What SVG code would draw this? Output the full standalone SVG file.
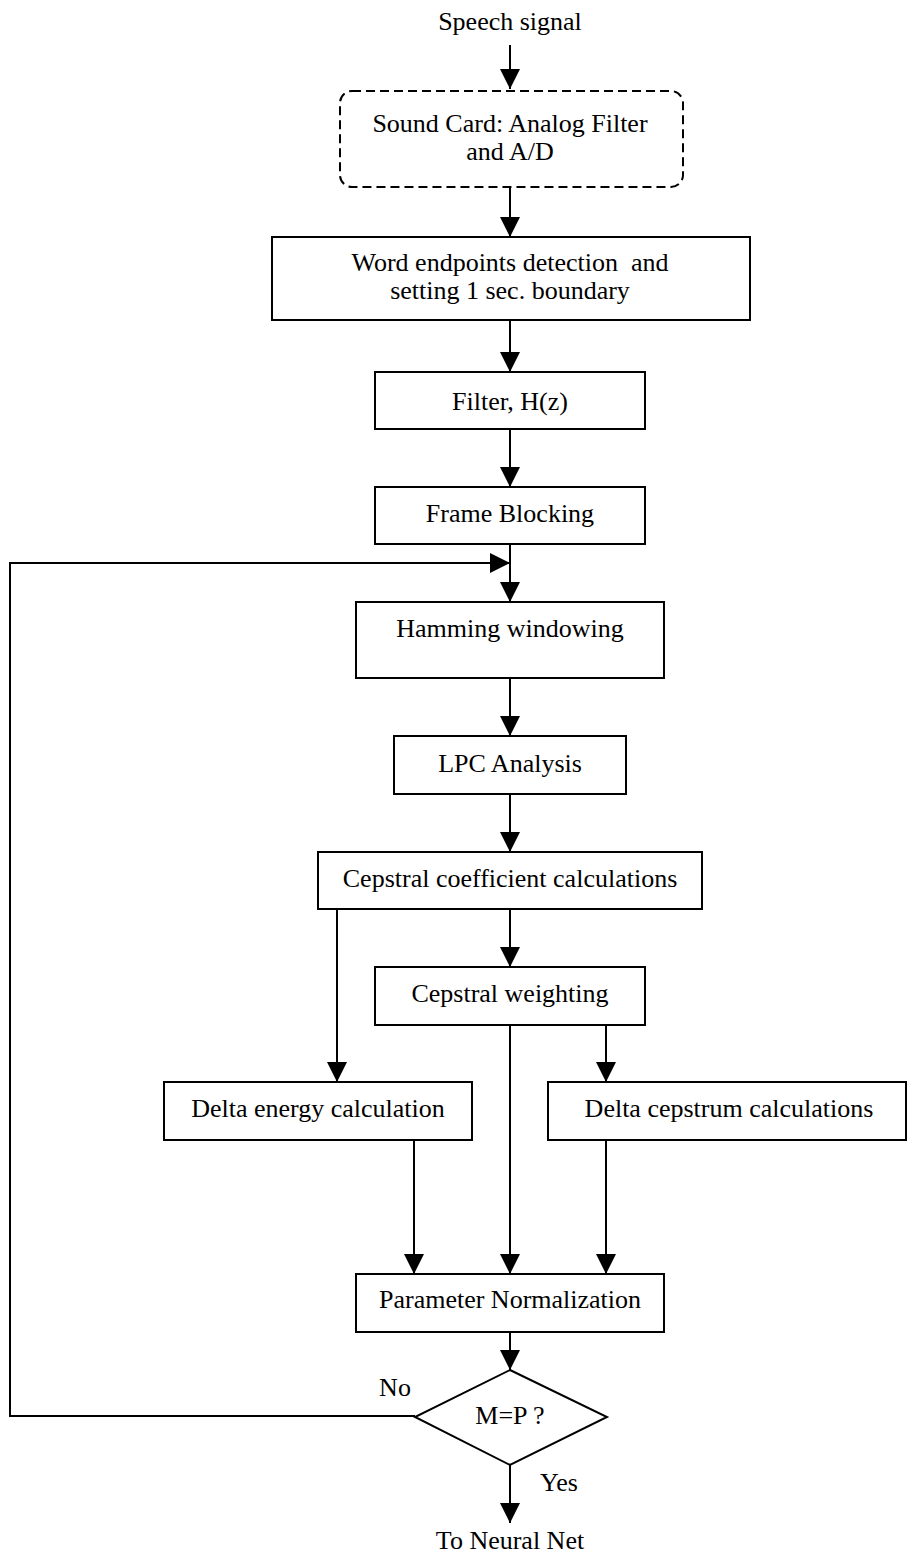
<svg xmlns="http://www.w3.org/2000/svg" width="907" height="1555" viewBox="0 0 907 1555">
<style>
  .box { fill: #fff; stroke: #000; stroke-width: 2; }
  .dash { fill: #fff; stroke: #000; stroke-width: 2; stroke-dasharray: 9 5; }
  .t { font-family: "Liberation Serif", "Times New Roman", serif; font-size: 26px; fill: #000; text-anchor: middle; }
  .c { fill: none; stroke: #000; stroke-width: 2; }
</style>
<defs>
  <marker id="ah" markerUnits="userSpaceOnUse" markerWidth="20" markerHeight="20" refX="20" refY="10" orient="auto" viewBox="0 0 20 20">
    <path d="M0,0 L20,10 L0,20 z" fill="#000"/>
  </marker>
</defs>

<g id="connectors">
  <line class="c" x1="510" y1="45" x2="510" y2="89" marker-end="url(#ah)"/>
  <line class="c" x1="510" y1="187" x2="510" y2="237" marker-end="url(#ah)"/>
  <line class="c" x1="510" y1="320" x2="510" y2="372" marker-end="url(#ah)"/>
  <line class="c" x1="510" y1="429" x2="510" y2="487" marker-end="url(#ah)"/>
  <line class="c" x1="510" y1="544" x2="510" y2="602" marker-end="url(#ah)"/>
  <line class="c" x1="510" y1="678" x2="510" y2="736" marker-end="url(#ah)"/>
  <line class="c" x1="510" y1="794" x2="510" y2="852" marker-end="url(#ah)"/>
  <line class="c" x1="510" y1="909" x2="510" y2="967" marker-end="url(#ah)"/>
  <line class="c" x1="337" y1="909" x2="337" y2="1082" marker-end="url(#ah)"/>
  <line class="c" x1="606" y1="1025" x2="606" y2="1082" marker-end="url(#ah)"/>
  <line class="c" x1="510" y1="1025" x2="510" y2="1274" marker-end="url(#ah)"/>
  <line class="c" x1="414" y1="1140" x2="414" y2="1274" marker-end="url(#ah)"/>
  <line class="c" x1="606" y1="1140" x2="606" y2="1274" marker-end="url(#ah)"/>
  <line class="c" x1="510" y1="1332" x2="510" y2="1370" marker-end="url(#ah)"/>
  <line class="c" x1="510" y1="1465" x2="510" y2="1523" marker-end="url(#ah)"/>
  <polyline class="c" points="415,1416 10,1416 10,563 510,563" marker-end="url(#ah)"/>
</g>

<g id="speech-signal"><text class="t" x="510" y="30">Speech signal</text></g>

<g id="sound-card">
  <rect class="dash" x="340" y="91" width="343" height="96" rx="12" ry="12"/>
  <text class="t" x="510" y="132">Sound Card: Analog Filter</text>
  <text class="t" x="510" y="160">and A/D</text>
</g>

<g id="word-endpoints">
  <rect class="box" x="272" y="237" width="478" height="83"/>
  <text class="t" x="510" y="271" style="white-space:pre">Word endpoints detection  and</text>
  <text class="t" x="510" y="299">setting 1 sec. boundary</text>
</g>

<g id="filter">
  <rect class="box" x="375" y="372" width="270" height="57"/>
  <text class="t" x="510" y="410">Filter, H(z)</text>
</g>

<g id="frame-blocking">
  <rect class="box" x="375" y="487" width="270" height="57"/>
  <text class="t" x="510" y="522">Frame Blocking</text>
</g>

<g id="hamming">
  <rect class="box" x="356" y="602" width="308" height="76"/>
  <text class="t" x="510" y="637">Hamming windowing</text>
</g>

<g id="lpc">
  <rect class="box" x="394" y="736" width="232" height="58"/>
  <text class="t" x="510" y="772">LPC Analysis</text>
</g>

<g id="cepstral-coef">
  <rect class="box" x="318" y="852" width="384" height="57"/>
  <text class="t" x="510" y="887">Cepstral coefficient calculations</text>
</g>

<g id="cepstral-weighting">
  <rect class="box" x="375" y="967" width="270" height="58"/>
  <text class="t" x="510" y="1002">Cepstral weighting</text>
</g>

<g id="delta-energy">
  <rect class="box" x="164" y="1082" width="308" height="58"/>
  <text class="t" x="318" y="1117">Delta energy calculation</text>
</g>

<g id="delta-cepstrum">
  <rect class="box" x="548" y="1082" width="358" height="58"/>
  <text class="t" x="729" y="1117">Delta cepstrum calculations</text>
</g>

<g id="param-norm">
  <rect class="box" x="356" y="1274" width="308" height="58"/>
  <text class="t" x="510" y="1308">Parameter Normalization</text>
</g>

<g id="decision">
  <polygon class="box" points="510,1370 607,1417 510,1465 415,1417"/>
  <text class="t" x="510" y="1424">M=P ?</text>
</g>

<g id="labels">
  <text class="t" x="395" y="1396">No</text>
  <text class="t" x="559" y="1491">Yes</text>
</g>

<g id="to-neural-net"><text class="t" x="510" y="1549">To Neural Net</text></g>
</svg>
